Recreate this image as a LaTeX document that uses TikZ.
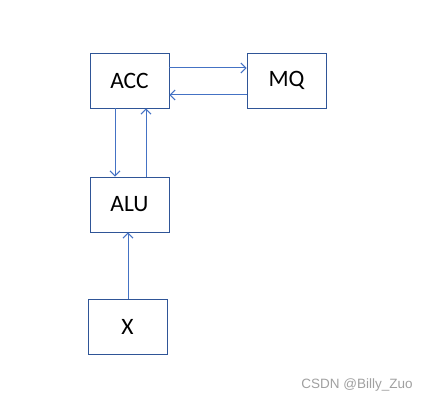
\documentclass[tikz,border=0pt]{standalone}
\usepackage{fontspec}
\setmainfont{Carlito}
\newfontfamily\wmfont{Liberation Sans}
\usetikzlibrary{arrows.meta}
\definecolor{boxblue}{HTML}{2F5597}
\definecolor{linkblue}{HTML}{4472C4}
\definecolor{wmgray}{HTML}{A0A0A0}
\begin{document}
\begin{tikzpicture}[x=1pt, y=-1pt,
    reg/.style={draw=boxblue, line width=0.9pt, minimum width=79pt, minimum height=55pt,
      inner sep=0pt, font=\fontsize{23.5}{25}\selectfont},
    link/.style={draw=linkblue, line width=1pt, -{Straight Barb[length=5pt, width=10pt]}}]
  \useasboundingbox (0,0) rectangle (429,401);
  \node[reg] (acc) at (129.5,80.5) {ACC};
  \node[reg] (mq) at (286.5,80.5) {MQ};
  \node[reg] (alu) at (129.5,204.5) {ALU};
  \node[reg] (x) at (127.5,326.5) {X};
  \draw[link] ([yshift=12.5pt]acc.east) -- ([yshift=12.5pt]mq.west);
  \draw[link] ([yshift=-14.5pt]mq.west) -- ([yshift=-14.5pt]acc.east);
  \draw[link] ([xshift=-14.5pt]acc.south) -- ([xshift=-14.5pt]alu.north);
  \draw[link] ([xshift=16.5pt]alu.north) -- ([xshift=16.5pt]acc.south);
  \draw[link] ([xshift=0.5pt]x.north) -- ([xshift=-1.5pt]alu.south);
  \node[text=wmgray, font=\wmfont\fontsize{13.5}{15}\selectfont] (wm) at (357,385) {CSDN @Billy\_Zuo};
\end{tikzpicture}
\end{document}
